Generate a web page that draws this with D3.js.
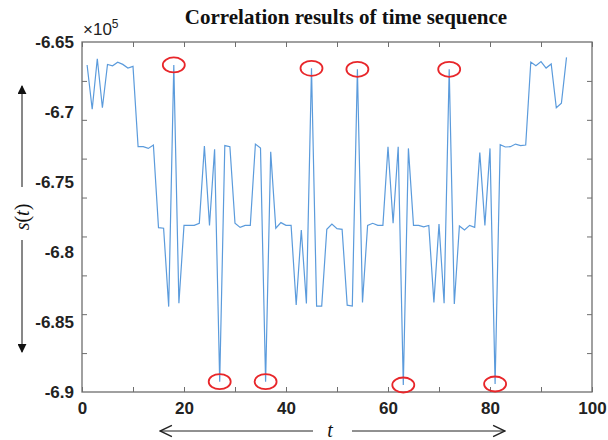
<!DOCTYPE html>
<meta charset="utf-8">
<style>
  body { margin: 0; background: #fff; }
</style>

<!-- Load d3.js -->
<script src="https://d3js.org/d3.v7.min.js"></script>

<div id="my_dataviz"></div>

<script>
// s(t) values, in units of 1e5, for t = 1..95
var tValues = d3.range(1, 96);
var sValues = [
  -6.6664, -6.698, -6.662, -6.697, -6.666, -6.667, -6.6645, -6.666, -6.6686, -6.6674,
  -6.7248, -6.7248, -6.726, -6.7236, -6.7826, -6.783, -6.839, -6.6664, -6.8366, -6.781,
  -6.781, -6.781, -6.7795, -6.7243, -6.781, -6.7267, -6.8926, -6.724, -6.7248, -6.7795,
  -6.7824, -6.781, -6.781, -6.7229, -6.7257, -6.8926, -6.7284, -6.783, -6.779, -6.781,
  -6.781, -6.8379, -6.7843, -6.8367, -6.6688, -6.8386, -6.8386, -6.7838, -6.78, -6.7833,
  -6.7838, -6.838, -6.8386, -6.6695, -6.836, -6.781, -6.7795, -6.781, -6.781, -6.7248,
  -6.7795, -6.7248, -6.895, -6.726, -6.781, -6.781, -6.782, -6.781, -6.836, -6.78,
  -6.8366, -6.6695, -6.8371, -6.7814, -6.7843, -6.781, -6.7824, -6.729, -6.781, -6.726,
  -6.8943, -6.7233, -6.725, -6.7248, -6.7229, -6.724, -6.7236, -6.6643, -6.667, -6.664,
  -6.6686, -6.6657, -6.697, -6.6938, -6.661
];
// time steps whose extremes are circled
var markedT = [18, 27, 36, 45, 54, 63, 72, 81];

// tick labels and tick marks
var xTickLabels = [0, 20, 40, 60, 80, 100];
var xTickMarks = [0, 10, 20, 30, 40, 50, 60, 70, 80, 90, 100];
var yTickLabels = [-6.65, -6.7, -6.75, -6.8, -6.85, -6.9];
var yTickMarks = [-6.6778, -6.7056, -6.7333, -6.7611, -6.7889, -6.8167, -6.8444, -6.8722];

var data = tValues.map(function(t, i) { return {t: t, s: sValues[i]}; });

// dimensions
var margin = {top: 42, right: 16, bottom: 48, left: 82},
    width = 608 - margin.left - margin.right,
    height = 440 - margin.top - margin.bottom;

var root = d3.select("#my_dataviz")
  .append("svg")
    .attr("width", 608)
    .attr("height", 440);

var defs = root.append("defs");
defs.append("marker")
    .attr("id", "tri")
    .attr("viewBox", "0 0 10 10")
    .attr("refX", 9).attr("refY", 5)
    .attr("markerWidth", 9).attr("markerHeight", 9)
    .attr("markerUnits", "userSpaceOnUse")
    .attr("orient", "auto")
  .append("path")
    .attr("d", "M0,0 L10,5 L0,10 Z")
    .attr("fill", "#111");
defs.append("marker")
    .attr("id", "chev")
    .attr("viewBox", "0 0 10 10")
    .attr("refX", 9.5).attr("refY", 5)
    .attr("markerWidth", 14).attr("markerHeight", 14)
    .attr("markerUnits", "userSpaceOnUse")
    .attr("orient", "auto")
  .append("path")
    .attr("d", "M1,1 L9.5,5 L1,9")
    .attr("fill", "none")
    .attr("stroke", "#222")
    .attr("stroke-width", 1);

var svg = root.append("g")
    .attr("transform", "translate(" + margin.left + "," + margin.top + ")");

var x = d3.scaleLinear().domain([0, 100]).range([0, width]);
var y = d3.scaleLinear().domain([-6.9, -6.65]).range([height, 0]);

var axisColor = "#6e6e6e";
var tickFont = "bold 17px 'Liberation Sans', Arial, sans-serif";

// box
svg.append("rect")
    .attr("width", width).attr("height", height)
    .attr("fill", "none")
    .attr("stroke", axisColor)
    .attr("stroke-width", 1.3);

// tick marks on all four sides
function marks(axis, tr) {
  var g = svg.append("g").attr("transform", tr).call(axis);
  g.select(".domain").remove();
  g.selectAll("line").attr("stroke", axisColor).attr("stroke-width", 1);
  g.selectAll("text").remove();
}
marks(d3.axisBottom(x).tickValues(xTickMarks).tickSize(-5), "translate(0," + height + ")");
marks(d3.axisTop(x).tickValues(xTickMarks).tickSize(-5), "translate(0,0)");
marks(d3.axisLeft(y).tickValues(yTickMarks).tickSize(-5), "translate(0,0)");
marks(d3.axisRight(y).tickValues(yTickMarks).tickSize(-5), "translate(" + width + ",0)");

// tick labels
var xa = svg.append("g")
    .attr("transform", "translate(0," + height + ")")
    .call(d3.axisBottom(x).tickValues(xTickLabels).tickSize(0).tickPadding(10));
xa.select(".domain").remove();
xa.selectAll("text").style("font", tickFont).attr("fill", "#222");

var ya = svg.append("g")
    .call(d3.axisLeft(y).tickValues(yTickLabels).tickSize(0).tickPadding(8)
      .tickFormat(function(d) { return String(+d.toFixed(2)); }));
ya.select(".domain").remove();
ya.selectAll("text").style("font", tickFont).attr("fill", "#222");

// exponent
svg.append("text")
    .attr("x", 1).attr("y", -7)
    .style("font", "17px 'Liberation Sans', Arial, sans-serif")
    .attr("fill", "#222")
    .text("\u00d710")
  .append("tspan")
    .attr("dy", -7)
    .style("font-size", "12px")
    .text("5");

// line
svg.append("path")
    .datum(data)
    .attr("fill", "none")
    .attr("stroke", "#5b9bdc")
    .attr("stroke-width", 1.2)
    .attr("d", d3.line()
      .x(function(d) { return x(d.t); })
      .y(function(d) { return y(d.s); })
    );

// red circles on the extremes
svg.selectAll(".mark")
  .data(data.filter(function(d) { return markedT.indexOf(d.t) >= 0; }))
  .enter().append("ellipse")
    .attr("cx", function(d) { return x(d.t); })
    .attr("cy", function(d) { return y(d.s); })
    .attr("rx", 11).attr("ry", 7.5)
    .attr("fill", "none")
    .attr("stroke", "#e8262a")
    .attr("stroke-width", 1.8);

// title
root.append("text")
    .attr("x", 346).attr("y", 24)
    .attr("text-anchor", "middle")
    .style("font", "bold 21px 'Liberation Serif', 'Times New Roman', serif")
    .attr("fill", "#111")
    .text("Correlation results of time sequence");

// y label with arrows
var yl = root.append("text")
    .attr("transform", "translate(29,217) rotate(-90)")
    .attr("text-anchor", "middle")
    .style("font", "20px 'Liberation Serif', 'Times New Roman', serif")
    .attr("fill", "#111");
yl.append("tspan").style("font-style", "italic").text("s");
yl.append("tspan").text("(");
yl.append("tspan").style("font-style", "italic").text("t");
yl.append("tspan").text(")");

root.append("line")
    .attr("x1", 22).attr("y1", 187).attr("x2", 22).attr("y2", 86)
    .attr("stroke", "#111").attr("stroke-width", 1)
    .attr("marker-end", "url(#tri)");
root.append("line")
    .attr("x1", 22).attr("y1", 240).attr("x2", 22).attr("y2", 352)
    .attr("stroke", "#111").attr("stroke-width", 1)
    .attr("marker-end", "url(#tri)");

// x label with arrows
root.append("text")
    .attr("x", 330).attr("y", 437)
    .attr("text-anchor", "middle")
    .style("font", "italic 20px 'Liberation Serif', 'Times New Roman', serif")
    .attr("fill", "#111")
    .text("t");
root.append("line")
    .attr("x1", 313).attr("y1", 431).attr("x2", 160).attr("y2", 431)
    .attr("stroke", "#222").attr("stroke-width", 1)
    .attr("marker-end", "url(#chev)");
root.append("line")
    .attr("x1", 352).attr("y1", 431).attr("x2", 505).attr("y2", 431)
    .attr("stroke", "#222").attr("stroke-width", 1)
    .attr("marker-end", "url(#chev)");
</script>
